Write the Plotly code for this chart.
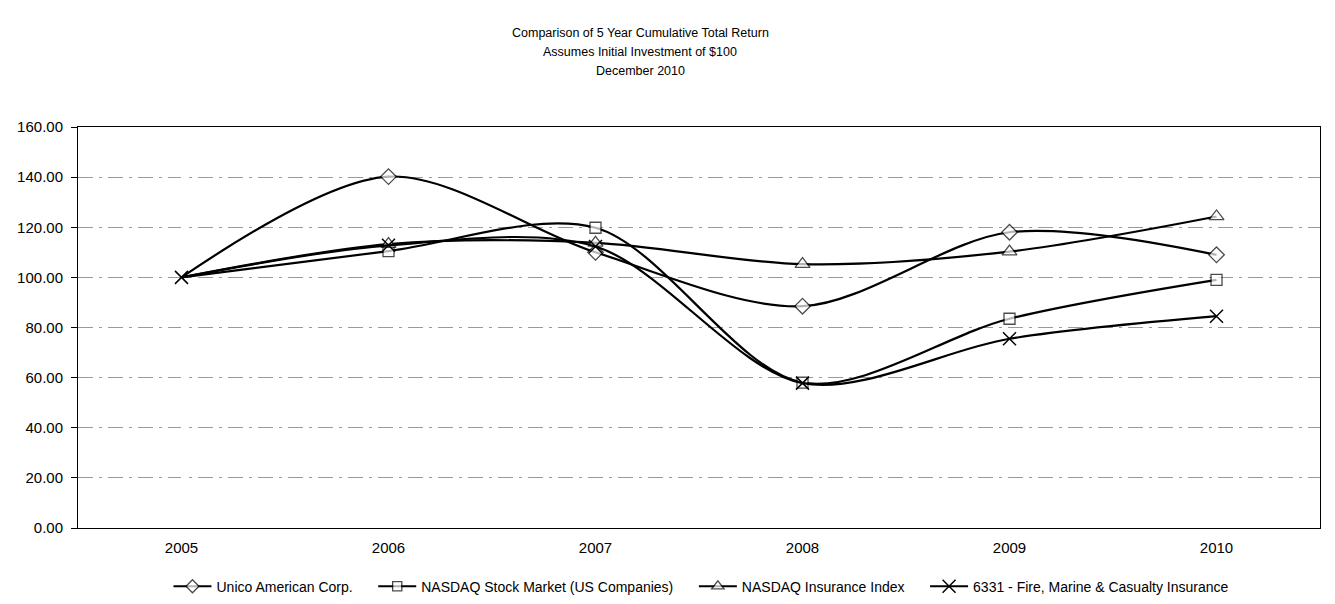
import plotly.graph_objects as go

years = ["2005", "2006", "2007", "2008", "2009", "2010"]
unico = [100.0, 140.2, 110.0, 88.5, 118.0, 109.0]
nasdaq_stock = [100.0, 110.5, 119.8, 58.0, 83.5, 99.0]
nasdaq_ins = [100.0, 113.3, 113.8, 105.3, 110.3, 124.3]
fire_marine = [100.0, 112.8, 112.3, 57.8, 75.5, 84.5]

title_lines = ["Comparison of 5 Year Cumulative Total Return",
               "Assumes Initial Investment of $100",
               "December 2010"]

NB = "\u00a0" * 4
series = [
    ("Unico American Corp." + NB, unico, "diamond", 12),
    ("NASDAQ Stock Market (US Companies)" + NB, nasdaq_stock, "square", 11),
    ("NASDAQ Insurance Index" + NB, nasdaq_ins, "triangle-up", 13),
    ("6331 - Fire, Marine & Casualty Insurance", fire_marine, "x-thin-open", 13),
]

xs = list(range(len(years)))
fig = go.Figure()
for name, vals, sym, msize in series:
    if sym == "x-thin-open":
        marker = dict(symbol=sym, size=msize, color="black", line=dict(color="black", width=1.5))
    else:
        sizes = [0] + [msize] * (len(vals) - 1)
        marker = dict(symbol=sym, size=sizes, color="white", line=dict(color="black", width=1.3))
    fig.add_trace(go.Scatter(
        x=xs, y=vals, name=name, mode="lines+markers",
        line=dict(color="black", width=2.2, shape="spline", smoothing=0.9),
        marker=marker,
    ))

ann = []
for i, (t, yp) in enumerate(zip(title_lines, [1.2344, 1.187, 1.1397])):
    ann.append(dict(text=t, xref="paper", yref="paper", x=0.4525, y=yp,
                    xanchor="center", yanchor="middle", showarrow=False,
                    font=dict(size=12.5, color="black")))

fig.update_layout(
    width=1335, height=604,
    paper_bgcolor="white", plot_bgcolor="white",
    margin=dict(l=70, r=23, t=119, b=84, autoexpand=False),
    font=dict(family="Liberation Sans, Arial, sans-serif", size=13, color="black"),
    annotations=ann,
    showlegend=True,
    legend=dict(orientation="h", x=0.502, xanchor="center",
                yref="container", y=0.042, yanchor="middle",
                font=dict(size=14), itemwidth=38, tracegroupgap=0),
)
fig.update_xaxes(
    tickvals=xs, ticktext=years, range=[-0.5, 5.5],
    showgrid=False, showline=True, linecolor="black", linewidth=1, mirror=True,
    ticks="", tickfont=dict(size=15), ticklabelstandoff=6,
)
fig.update_yaxes(
    range=[0, 160], dtick=20, tickformat=".2f",
    showgrid=True, gridcolor="#9a9a9a", gridwidth=1, griddash="longdashdot",
    showline=True, linecolor="black", linewidth=1, mirror=True,
    ticks="outside", ticklen=6, tickcolor="black", tickfont=dict(size=15),
    ticklabelstandoff=5, zeroline=False,
)
fig.write_html("out.html")
